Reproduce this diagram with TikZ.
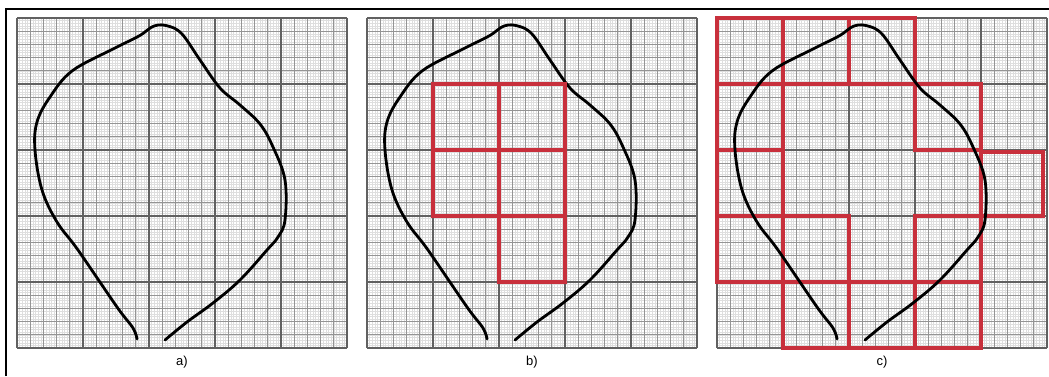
\documentclass[tikz,border=0pt]{standalone}
\usepackage{fontspec}
\setmainfont{Liberation Sans}
\definecolor{redsq}{RGB}{200,48,60}
\newcommand\leafpanel[1]{%
  \begin{scope}[shift={(#1,18)}]
    \foreach \i in {1,...,124} \draw[fine] (\i*2.64,0) -- (\i*2.64,330) (0,\i*2.64) -- (330,\i*2.64);
    \foreach \i in {1,...,24} \draw[medium] (\i*13.2,0) -- (\i*13.2,330) (0,\i*13.2) -- (330,\i*13.2);
    \foreach \i in {0,...,5} \draw[major] (\i*66,0) -- (\i*66,330) (0,\i*66) -- (330,\i*66);
  \end{scope}}
\newcommand\leafcurve[1]{%
  \begin{scope}[shift={(#1,18)}]
    \draw[leaf] plot[smooth,tension=0.6] coordinates {(120,321) (116,310) (100,289) (61,232) (40,204) (25,172) (18,132) (20,104) (33,79) (55,53) (96,31) (122,18) (137,8) (151,8) (165,16) (183,42) (203,70) (223,87) (243,106) (256,129) (268,162) (268,202) (261,219) (250,232) (223,262) (196,285) (170,304) (148,322)};
  \end{scope}}
\newcommand\redcell[3]{\draw[cell] (#1+#2*66,18+#3*66) rectangle ++(66,66);}
\begin{document}
\begin{tikzpicture}[x=1pt,y=-1pt,
  fine/.style={line width=0.3pt, black!13},
  medium/.style={line width=0.7pt, black!42},
  major/.style={line width=1.1pt, black!62},
  leaf/.style={line width=2.8pt, black, line cap=round, line join=round},
  cell/.style={line width=3.4pt, redsq},
  lbl/.style={font=\fontsize{13}{15}\selectfont}]
\useasboundingbox (0,0) rectangle (1049,376);
\fill[white] (0,0) rectangle (1049,376);
\draw[line width=1.4pt] (6,376) -- (6,9) -- (1049,9);
\leafpanel{17}
\leafpanel{367}
\leafpanel{717}
\leafcurve{17}
\leafcurve{367}
% panel b cells
\redcell{367}{1}{1}
\redcell{367}{2}{1}
\redcell{367}{1}{2}
\redcell{367}{2}{2}
\redcell{367}{2}{3}
% panel c cells
\redcell{717}{0}{0}
\redcell{717}{1}{0}
\redcell{717}{2}{0}
\redcell{717}{0}{1}
\redcell{717}{3}{1}
\redcell{717}{0}{2}
\draw[cell] (981,152) rectangle (1043,216);
\redcell{717}{0}{3}
\redcell{717}{1}{3}
\redcell{717}{3}{3}
\redcell{717}{1}{4}
\redcell{717}{2}{4}
\redcell{717}{3}{4}
\leafcurve{717}
\node[lbl] (la) at (182,362) {a)};
\node[lbl] (lb) at (532,362) {b)};
\node[lbl] (lc) at (882,362) {c)};
\end{tikzpicture}
\end{document}
